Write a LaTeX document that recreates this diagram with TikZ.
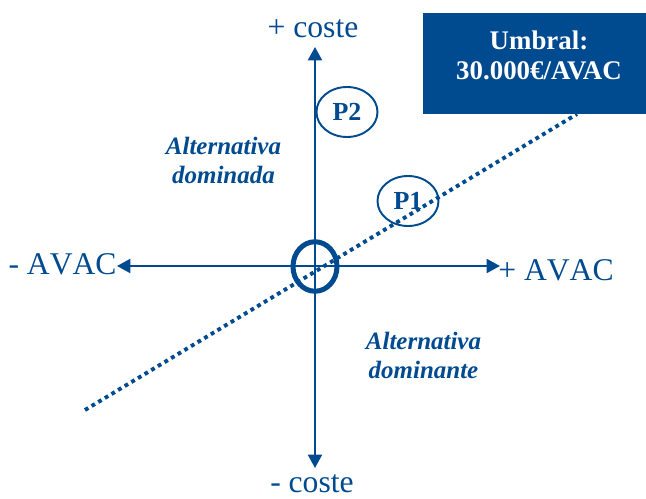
\documentclass[tikz,border=0pt]{standalone}
\usepackage{fontspec}
\setmainfont{Liberation Serif}
\usetikzlibrary{arrows.meta,shapes.geometric}
\definecolor{azul}{RGB}{0,74,144}

\begin{document}
\begin{tikzpicture}[color=azul,
  axis/.style={line width=1.1pt,
    {Triangle[length=7.6pt,width=8pt]}-{Triangle[length=7.6pt,width=8pt]}},
  axislabel/.style={inner sep=0pt,
    font=\fontsize{18}{21}\selectfont\addfontfeatures{Kerning=Off}},
  zone/.style={align=center,inner sep=0pt,
    font=\fontsize{14.2}{16.5}\selectfont\bfseries\itshape},
  point/.style={draw,ellipse,line width=1.1pt,inner sep=0pt,
    minimum width=1.22cm,minimum height=1cm,
    font=\fontsize{14.8}{17}\selectfont\bfseries}]

\useasboundingbox (-6.3,-4.66) rectangle (6.62,5.32);

% Threshold line
\coordinate (lo) at (-4.6,-2.88);
\coordinate (hi) at (5.24,3.04);
\draw[line width=2.2pt,dash pattern=on 2.2pt off 2.2pt] (lo)--(hi);

% Axes
\coordinate (top) at (0,4.38);
\coordinate (bottom) at (0,-4.04);
\coordinate (left) at (-3.96,0);
\coordinate (right) at (3.70,0);
\draw[axis] (bottom)--(top);
\draw[axis] (left)--(right);

\node[axislabel,anchor=base] (pcoste) at (-0.04,4.58)
{+ coste};
\node[axislabel,anchor=base] (mcoste) at (-0.06,-4.52)
{- coste};
\node[axislabel,anchor=base east] (mavac) at (-3.96,-0.18)
{- AVAC};
\node[axislabel,anchor=base west] (pavac) at (3.66,-0.28)
{+ AVAC};

% Origin
\node[draw,ellipse,line width=2.85pt,inner sep=0pt,
  minimum width=0.88cm,minimum height=0.99cm] (origen) at (0,-0.01) {};

% Threshold box
\node[fill=azul,inner sep=0pt,minimum width=4.46cm,minimum height=2.02cm]
(umbral) at (4.39,4.05) {};
\node[align=center,text=white,inner sep=0pt,
  font=\fontsize{15.3}{17}\selectfont\bfseries] (umbraltxt) at (4.48,4.21)
{Umbral:\\30.000€/AVAC};

% Points
\node[point] (p2) at (0.64,3.08) {P2};
\node[point] (p1) at (1.86,1.30) {P1};

% Zones
\node[zone] (dominada) at (-1.83,2.12)
{Alternativa\\dominada};
\node[zone] (dominante) at (2.17,-1.78)
{Alternativa\\dominante};

\end{tikzpicture}
\end{document}
